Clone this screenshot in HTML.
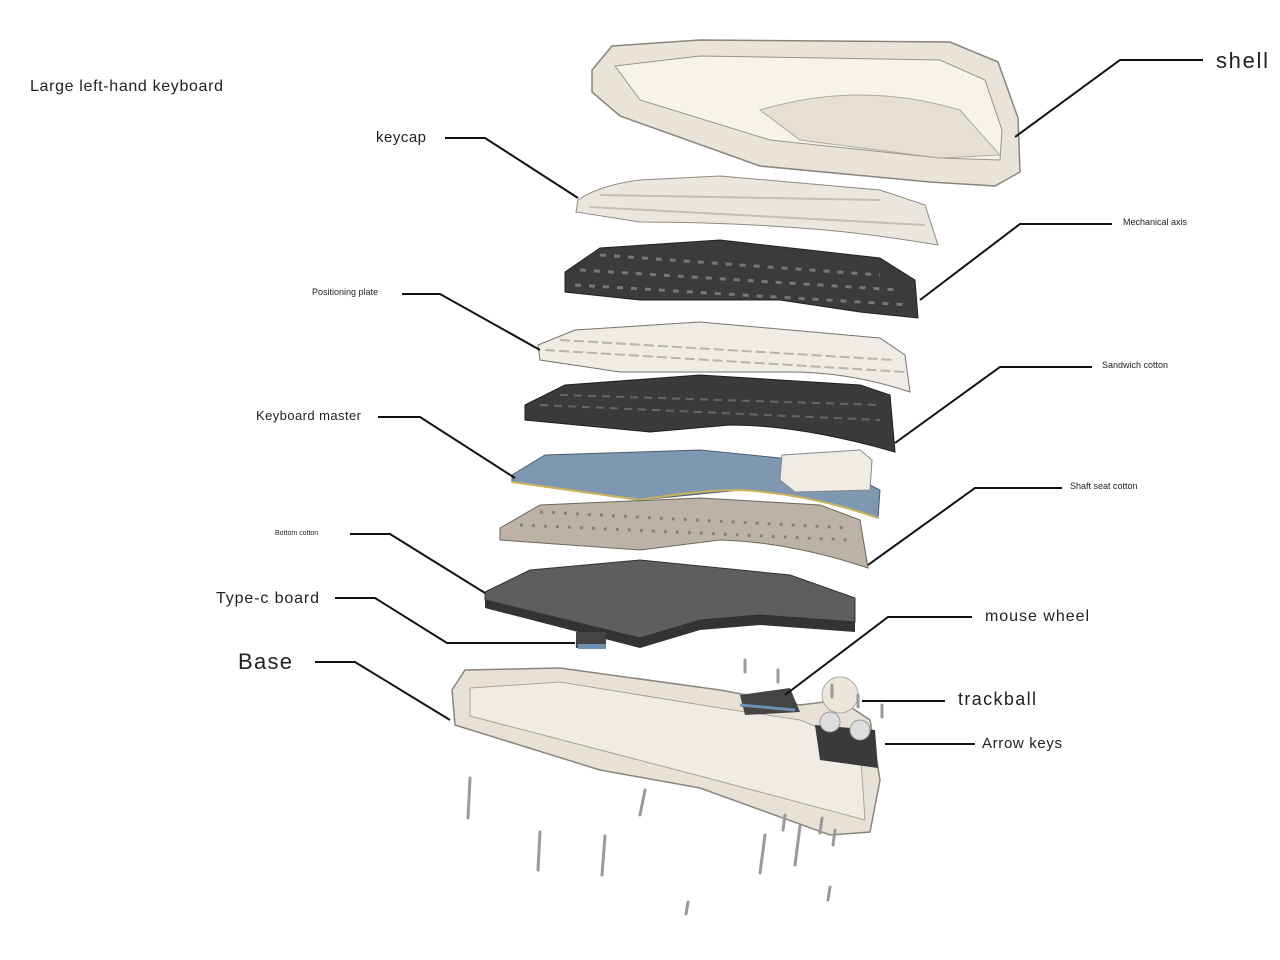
<!DOCTYPE html>
<html><head><meta charset="utf-8"><style>
html,body{margin:0;padding:0;background:#fff;}
svg{display:block}
text{font-family:"Liberation Sans",sans-serif;fill:#222}
</style></head><body>
<svg width="1280" height="960" viewBox="0 0 1280 960" xmlns="http://www.w3.org/2000/svg">
<rect width="1280" height="960" fill="#fff"/>
<!-- shell -->
<path d="M592,70 L612,46 L700,40 L950,42 L998,62 L1018,118 L1020,172 L995,186 L930,182 L760,166 L620,116 L592,92 Z" fill="#e9e3d8" stroke="#8a857c" stroke-width="1.5"/>
<path d="M615,66 L700,56 L940,60 L985,80 L1002,130 L1000,160 L940,158 L770,140 L640,100 Z" fill="#f6f3ed" stroke="#9a948a"/>
<path d="M760,110 Q860,80 960,110 L1000,155 L940,158 L800,140 Z" fill="#e6dfd3" stroke="#b0a99f"/>
<!-- keycap -->
<path d="M578,200 Q600,185 640,180 L720,176 L880,190 L925,205 L938,245 Q860,232 800,228 Q720,222 640,222 L576,212 Z" fill="#ece7de" stroke="#8f897f"/>
<path d="M600,195 L880,200 M590,207 L925,225" stroke="#c5beb2" stroke-width="2" fill="none"/>
<!-- mechanical axis -->
<path d="M565,272 L600,248 L720,240 L880,258 L915,280 L918,318 L860,312 L780,300 L700,300 L640,300 L565,292 Z" fill="#3b3b3b" stroke="#222"/>
<path d="M580,270 L900,290 M600,255 L880,275 M575,285 L910,305" stroke="#777" stroke-width="3" stroke-dasharray="6 8" fill="none"/>
<!-- positioning plate -->
<path d="M538,345 L575,330 L700,322 L880,338 L905,355 L910,392 Q850,372 790,372 Q700,372 620,372 L540,360 Z" fill="#efebe5" stroke="#7a756c"/>
<path d="M545,350 L905,372 M560,340 L895,360" stroke="#b9b3a8" stroke-width="2" stroke-dasharray="10 4" fill="none"/>
<!-- sandwich cotton -->
<path d="M525,405 L565,385 L700,375 L860,385 L890,395 L895,452 Q800,425 730,425 L650,432 L525,420 Z" fill="#3a3a3a" stroke="#1e1e1e"/>
<path d="M540,405 L880,420 M560,395 L880,405" stroke="#666" stroke-width="2" stroke-dasharray="8 6" fill="none"/>
<!-- keyboard master -->
<path d="M512,475 L545,455 L700,450 L780,458 L840,470 L880,490 L878,518 Q800,492 740,490 L640,500 L512,482 Z" fill="#7f98b2" stroke="#4a5c6e"/>
<path d="M512,482 L640,500 Q700,490 740,490 Q810,494 878,518" stroke="#c8b35a" stroke-width="2" fill="none"/>
<path d="M782,455 L860,450 L872,460 L870,490 L795,492 L780,480 Z" fill="#efece6" stroke="#888"/>
<!-- shaft seat cotton -->
<path d="M500,528 L540,505 L700,498 L820,505 L860,520 L868,568 Q790,542 720,540 L640,550 L500,540 Z" fill="#bcb2a6" stroke="#6d665d"/>
<path d="M520,525 L850,540 M540,512 L850,528" stroke="#8a8277" stroke-width="3" stroke-dasharray="3 9" fill="none"/>
<!-- bottom cotton -->
<path d="M485,592 L530,570 L640,560 L790,575 L855,598 L855,622 L760,615 L700,620 L640,638 L485,600 Z" fill="#5e5e5e" stroke="#333"/>
<path d="M485,600 L640,638 L700,620 L760,615 L855,622 L855,632 L760,625 L700,630 L640,648 L485,608 Z" fill="#333"/>
<!-- type-c board -->
<rect x="576" y="632" width="30" height="16" fill="#444"/>
<rect x="578" y="644" width="28" height="5" fill="#6d8fb0"/>
<!-- base -->
<path d="M452,690 L465,670 L560,668 L720,690 L800,705 L840,700 L870,720 L880,780 L870,832 L830,835 L700,788 L600,770 L455,725 Z" fill="#e8e2d6" stroke="#8a857c" stroke-width="1.5"/>
<path d="M470,688 L560,682 L720,708 L800,720 L860,745 L865,820 L700,776 L470,716 Z" fill="#f1ece3" stroke="#aaa39a"/>
<!-- trackball parts -->
<circle cx="840" cy="695" r="18" fill="#ece6db" stroke="#aaa"/>
<path d="M740,695 L790,688 L800,712 L745,715 Z" fill="#444"/>
<path d="M740,705 L795,710" stroke="#6d8fb0" stroke-width="3"/>
<path d="M815,725 L875,730 L878,768 L820,760 Z" fill="#3a3a3a"/>
<circle cx="830" cy="722" r="10" fill="#ddd" stroke="#999"/><circle cx="860" cy="730" r="10" fill="#ddd" stroke="#999"/>
<!-- screws -->
<g stroke="#9a9a9a" stroke-width="3" stroke-linecap="round">
<line x1="470" y1="778" x2="468" y2="818"/><line x1="540" y1="832" x2="538" y2="870"/><line x1="605" y1="836" x2="602" y2="875"/><line x1="645" y1="790" x2="640" y2="815"/>
<line x1="765" y1="835" x2="760" y2="873"/><line x1="800" y1="826" x2="795" y2="865"/><line x1="785" y1="815" x2="783" y2="830"/><line x1="822" y1="818" x2="820" y2="833"/><line x1="835" y1="830" x2="833" y2="845"/><line x1="830" y1="887" x2="828" y2="900"/><line x1="688" y1="902" x2="686" y2="914"/>
<line x1="745" y1="660" x2="745" y2="672"/><line x1="778" y1="670" x2="778" y2="682"/><line x1="832" y1="685" x2="832" y2="697"/><line x1="858" y1="695" x2="858" y2="707"/><line x1="882" y1="705" x2="882" y2="717"/>
</g>
<!-- leader lines -->
<g stroke="#111" stroke-width="2" fill="none">
<polyline points="445,138 485,138 578,198"/>
<polyline points="1203,60 1120,60 1015,137"/>
<polyline points="1112,224 1020,224 920,300"/>
<polyline points="402,294 440,294 540,350"/>
<polyline points="1092,367 1000,367 895,443"/>
<polyline points="378,417 420,417 515,478"/>
<polyline points="1062,488 975,488 868,565"/>
<polyline points="350,534 390,534 485,593"/>
<polyline points="335,598 375,598 447,643 575,643"/>
<polyline points="315,662 355,662 450,720"/>
<polyline points="972,617 888,617 785,695"/>
<polyline points="945,701 862,701"/>
<polyline points="975,744 885,744"/>
</g>
<!-- labels -->
<text x="30" y="91" font-size="16" fill="#333" textLength="193">Large left-hand keyboard</text>
<text x="376" y="142" font-size="15" textLength="50">keycap</text>
<text x="1216" y="68" font-size="22" textLength="52">shell</text>
<text x="1123" y="225" font-size="9">Mechanical axis</text>
<text x="312" y="295" font-size="9">Positioning plate</text>
<text x="1102" y="368" font-size="9">Sandwich cotton</text>
<text x="256" y="420" font-size="13" textLength="105">Keyboard master</text>
<text x="1070" y="489" font-size="9">Shaft seat cotton</text>
<text x="275" y="535" font-size="7">Bottom cotton</text>
<text x="216" y="603" font-size="16" textLength="103">Type-c board</text>
<text x="238" y="669" font-size="22" textLength="54">Base</text>
<text x="985" y="621" font-size="16" textLength="104">mouse wheel</text>
<text x="958" y="705" font-size="18" textLength="78">trackball</text>
<text x="982" y="748" font-size="15" textLength="80">Arrow keys</text>
</svg>
</body></html>
